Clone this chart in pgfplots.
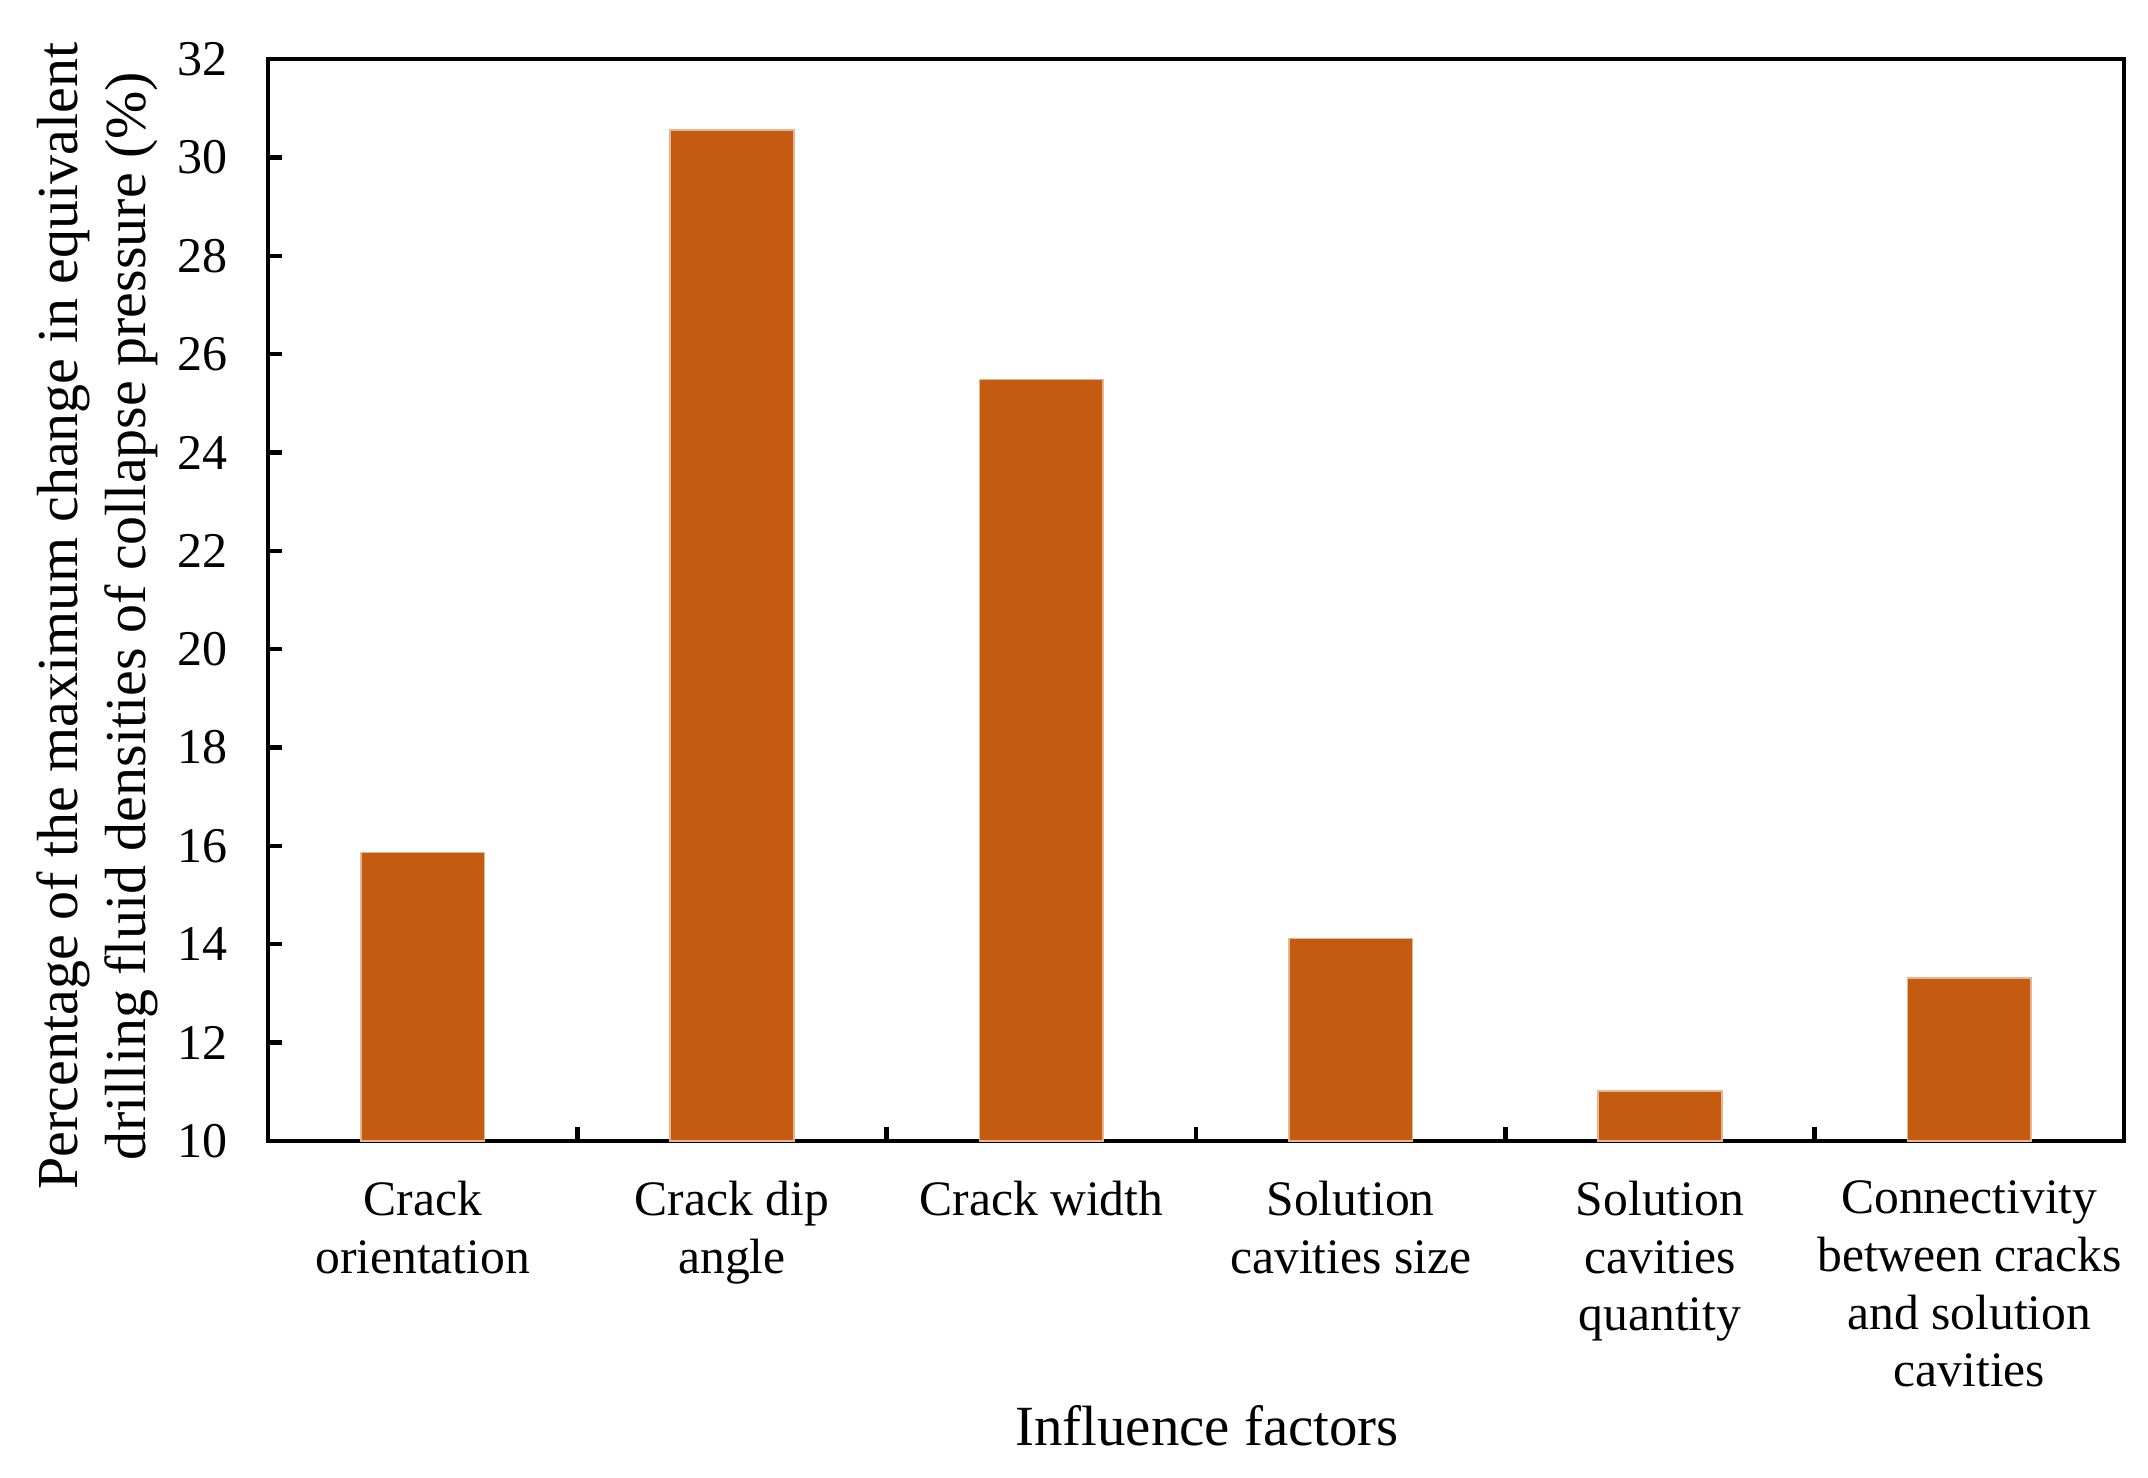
\documentclass[border=0pt]{standalone}
\usepackage{fontspec}
\setmainfont{Liberation Serif}
\usepackage{pgfplots}
\pgfplotsset{compat=1.18}
\definecolor{barorange}{HTML}{C55A11}

\begin{document}
\begin{tikzpicture}
\useasboundingbox (-67pt,-84pt) rectangle (470pt,285.25pt);
\begin{axis}[
    at={(0,0)}, anchor=south west,
    scale only axis,
    width=464pt, height=270.5pt,
    xmin=-0.5, xmax=5.5,
    ymin=10, ymax=32,
    ytick={10,12,...,32},
    xtick={0,...,5},
    xticklabels={{Crack\\orientation},{Crack dip\\angle},{Crack width},{Solution\\cavities size},{Solution\\cavities\\quantity},{Connectivity\\between cracks\\and solution\\cavities}},
    minor xtick={0.5,1.5,...,4.5},
    major x tick style={draw=none},
    tick align=inside,
    ytick pos=left,
    xtick pos=bottom,
    major tick length=3.5pt,
    minor tick length=3.5pt,
    axis line style={line width=1.1pt},
    every tick/.style={black, line width=1.1pt},
    /pgf/number format/assume math mode=true,
    yticklabel style={font=\fontsize{12.5}{15}\selectfont, xshift=-6.5pt},
    xticklabel style={font=\fontsize{12.4}{14.4}\selectfont, align=center, yshift=-6.5pt},
    xlabel={Influence factors},
    xlabel style={font=\fontsize{14.2}{17}\selectfont, at={(axis description cs:0.506,-0.263)}, anchor=center},
    ylabel={Percentage of the maximum change in equivalent\\drilling fluid densities of collapse pressure (\%)},
    ylabel style={font=\fontsize{14.5}{17}\selectfont, align=center, at={(axis description cs:-0.092,0.485)}, anchor=center},
]
\addplot[ybar, bar width=0.40, fill=barorange, draw=barorange!45!white, line width=0.4pt, bar shift=0pt]
  coordinates {
    (0, 15.87)
    (1, 30.56)
    (2, 25.48)
    (3, 14.12)
    (4, 11.02)
    (5, 13.31)
};
\end{axis}
\end{tikzpicture}
\end{document}
